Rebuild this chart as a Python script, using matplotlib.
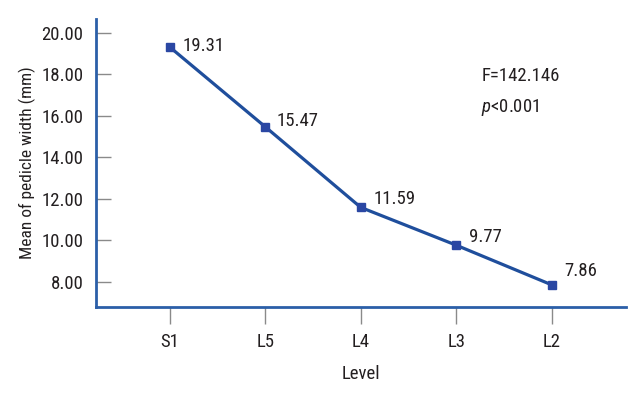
import matplotlib
matplotlib.use("Agg")
import matplotlib.pyplot as plt
from matplotlib import font_manager as fm

names = {f.name for f in fm.fontManager.ttflist}
FONT = "DejaVu Sans"
for cand in ["Liberation Sans Narrow", "Roboto Condensed", "Open Sans Condensed", "Arial Narrow", "Roboto"]:
    if cand in names:
        FONT = cand
        break
plt.rcParams['font.family'] = [FONT, 'DejaVu Sans']
plt.rcParams['mathtext.fontset'] = 'custom'
plt.rcParams['mathtext.it'] = FONT + ':italic'
plt.rcParams['mathtext.rm'] = FONT

levels = ["S1", "L5", "L4", "L3", "L2"]
means = [19.31, 15.47, 11.59, 9.77, 7.86]
yticks = [8, 10, 12, 14, 16, 18, 20]
label_offsets = [(9, 1), (8, 4), (9, 6), (9, 6), (9, 10)]  # points

TXT = "#231f20"
BLUE = "#2b5fa8"
LINE = "#1f4e9c"
FS = 13.5

fig = plt.figure(figsize=(6.43, 3.97), dpi=100)
ax = fig.add_axes([96/643, 1-307/397, (626-96)/643, (307-19)/397])

x = list(range(len(levels)))
ax.plot(x, means, color=LINE, lw=2.3, marker="s", ms=6, mfc="#2a47a3", mec="#2a47a3", zorder=3)
for xi, v, off in zip(x, means, label_offsets):
    ax.annotate(f"{v:.2f}", (xi, v), xytext=off, textcoords="offset points",
                ha="left", va="center", fontsize=FS, color=TXT)

ax.set_xlim(-0.775, 4.78)
ax.set_ylim(6.79, 20.67)
ax.set_xticks(x)
ax.set_xticklabels(levels)
ax.set_yticks(yticks)
ax.set_yticklabels([f"{t:.2f}" for t in yticks])
for s in ["top", "right"]:
    ax.spines[s].set_visible(False)
for s in ["left", "bottom"]:
    ax.spines[s].set_color(BLUE)
    ax.spines[s].set_linewidth(2)
ax.tick_params(axis="y", direction="in", length=11, width=1, color="#8a8a8a",
               labelsize=FS, labelcolor=TXT, pad=9)
ax.tick_params(axis="x", direction="out", length=12, width=1, color="#8a8a8a",
               labelsize=FS, labelcolor=TXT, pad=7)
ax.set_xlabel("Level", fontsize=FS, color=TXT, labelpad=10)
ax.set_ylabel("Mean of pedicle width (mm)", fontsize=12.5, color=TXT, labelpad=4)

ax.text(0.727, 0.802, "F=142.146", transform=ax.transAxes, fontsize=FS, color=TXT, ha="left", va="center")
ax.text(0.727, 0.694, "$p$<0.001", transform=ax.transAxes, fontsize=FS, color=TXT, ha="left", va="center")

fig.savefig("out.png", dpi=100)
